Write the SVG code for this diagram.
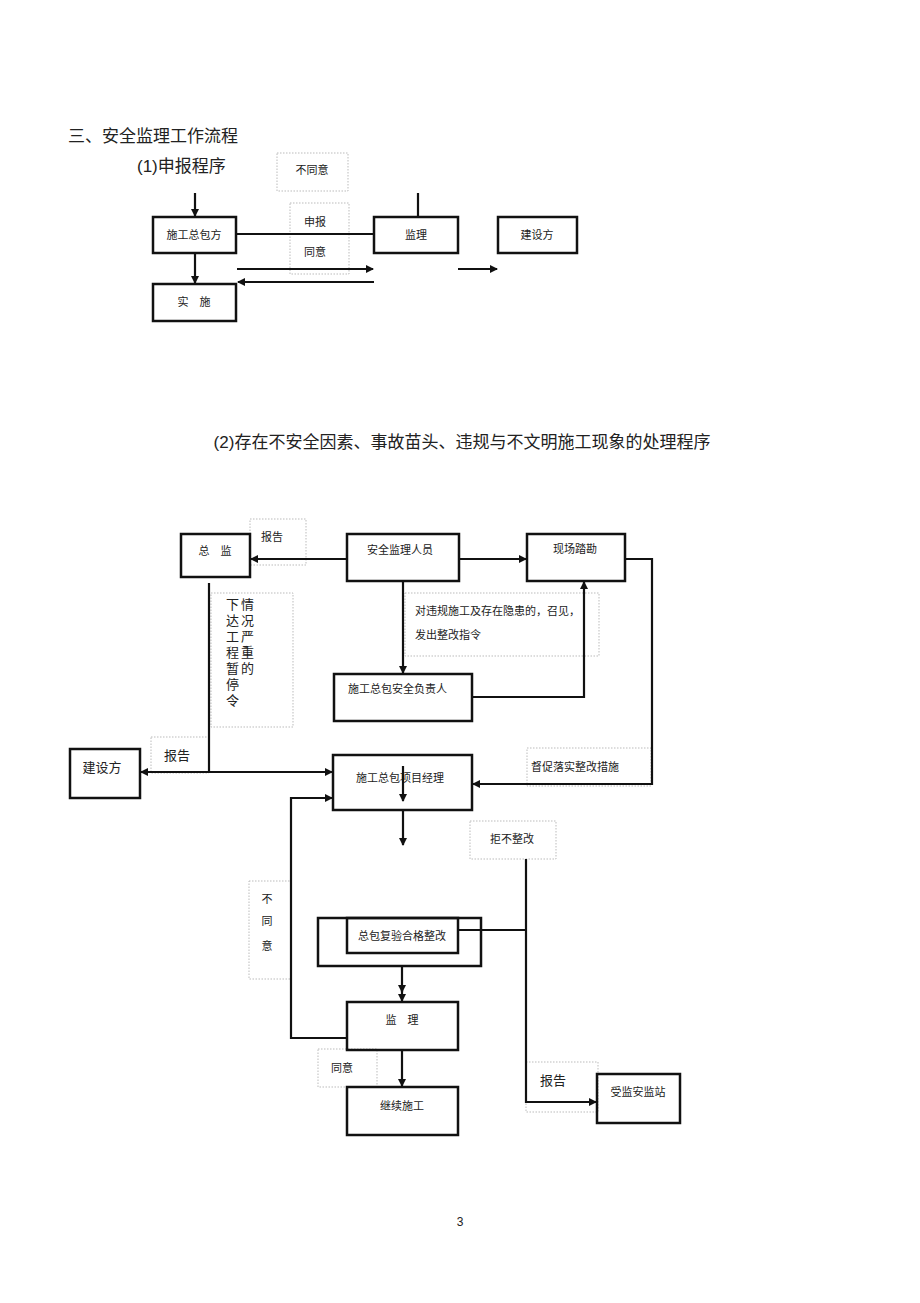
<svg xmlns="http://www.w3.org/2000/svg" width="920" height="1303" viewBox="0 0 920 1303">
<style>
text{font-family:"Liberation Serif","Noto Sans CJK SC",serif;fill:#222;}
.b{fill:none;stroke:#111;stroke-width:2.5}
.d{fill:none;stroke:#bbb;stroke-width:1;stroke-dasharray:1.5 1.5}
.l{fill:none;stroke:#111;stroke-width:2.2}
.s{font-size:11px}
.m{font-size:13px}
</style>
<defs><marker id="a" markerWidth="8" markerHeight="8" refX="7" refY="4" orient="auto" markerUnits="userSpaceOnUse"><path d="M0,0L8,4L0,8z" fill="#111"/></marker></defs>
<rect width="920" height="1303" fill="#fff"/>
<text x="68" y="142" font-size="17">三、安全监理工作流程</text>
<text x="137" y="172" font-size="17" style="font-family:'Liberation Sans','Noto Sans CJK SC',sans-serif">(1)申报程序</text>
<text x="462" y="448" font-size="17" text-anchor="middle" style="font-family:'Liberation Sans','Noto Sans CJK SC',sans-serif">(2)存在不安全因素、事故苗头、违规与不文明施工现象的处理程序</text>
<g id="labels1">
<rect class="d" x="277" y="153" width="71" height="38"/><text class="s" x="312" y="174" text-anchor="middle">不同意</text>
<rect class="d" x="290" y="203" width="59" height="71"/><text class="s" x="315" y="226" text-anchor="middle">申报</text><text class="s" x="315" y="256" text-anchor="middle">同意</text>
</g>
<g id="n1"><rect class="b" x="153" y="217" width="83" height="36"/><text class="s" x="194" y="239" text-anchor="middle">施工总包方</text></g>
<g id="n2"><rect class="b" x="374" y="217" width="84" height="36"/><text class="s" x="416" y="239" text-anchor="middle">监理</text></g>
<g id="n3"><rect class="b" x="498" y="217" width="79" height="36"/><text class="s" x="537" y="239" text-anchor="middle">建设方</text></g>
<g id="n4"><rect class="b" x="153" y="284" width="83" height="37"/><text class="s" x="194" y="306" text-anchor="middle">实　施</text></g>
<g id="labels2">
<rect class="d" x="250" y="519" width="56" height="46"/><text class="s" x="272" y="541" text-anchor="middle">报告</text>
<rect class="d" x="405" y="593" width="194" height="63"/><text class="s" x="415" y="615">对违规施工及存在隐患的，召见，</text><text class="s" x="415" y="639">发出整改指令</text>
<rect class="d" x="211" y="593" width="82" height="134"/>
<g class="m"><text x="226" y="609">下</text><text x="241" y="609">情</text><text x="226" y="625">达</text><text x="241" y="625">况</text><text x="226" y="641">工</text><text x="241" y="641">严</text><text x="226" y="657">程</text><text x="241" y="657">重</text><text x="226" y="673">暂</text><text x="241" y="673">的</text><text x="226" y="689">停</text><text x="226" y="705">令</text></g>
<rect class="d" x="151" y="737" width="58" height="36"/><text class="m" x="177" y="760" text-anchor="middle">报告</text>
<rect class="d" x="527" y="748" width="124" height="38"/><text class="s" x="575" y="771" text-anchor="middle">督促落实整改措施</text>
<rect class="d" x="470" y="821" width="86" height="38"/><text class="s" x="512" y="843" text-anchor="middle">拒不整改</text>
<rect class="d" x="249" y="881" width="42" height="98"/><text class="s" x="267" y="903" text-anchor="middle">不</text><text class="s" x="267" y="925" text-anchor="middle">同</text><text class="s" x="267" y="950" text-anchor="middle">意</text>
<rect class="d" x="318" y="1049" width="59" height="38"/><text class="s" x="342" y="1072" text-anchor="middle">同意</text>
<rect class="d" x="526" y="1062" width="72" height="50"/><text class="m" x="553" y="1085" text-anchor="middle">报告</text>
</g>
<g id="zongjian"><rect class="b" x="181" y="534" width="69" height="43"/><text class="s" x="215" y="555" text-anchor="middle">总　监</text></g>
<g id="anquan"><rect class="b" x="347" y="534" width="112" height="47"/><text class="s" x="400" y="554" text-anchor="middle">安全监理人员</text></g>
<g id="xianchang"><rect class="b" x="527" y="534" width="98" height="47"/><text class="s" x="575" y="553" text-anchor="middle">现场踏勘</text></g>
<g id="fuzeren"><rect class="b" x="334" y="674" width="138" height="47"/><text class="s" x="348" y="693">施工总包安全负责人</text></g>
<g id="jianshe"><rect class="b" x="70" y="749" width="70" height="49"/><text class="m" x="102" y="772" text-anchor="middle">建设方</text></g>
<g id="jingli"><rect class="b" x="333" y="755" width="139" height="55"/><text class="s" x="400" y="782" text-anchor="middle">施工总包项目经理</text></g>
<g id="fuyan"><rect class="b" x="318" y="918" width="163" height="48"/><rect class="b" x="347" y="918" width="111" height="35"/><text class="s" x="402" y="940" text-anchor="middle">总包复验合格整改</text></g>
<g id="jianli"><rect class="b" x="347" y="1002" width="111" height="48"/><text class="s" x="402" y="1024" text-anchor="middle">监　理</text></g>
<g id="jixu"><rect class="b" x="347" y="1087" width="111" height="48"/><text class="s" x="402" y="1110" text-anchor="middle">继续施工</text></g>
<g id="shoujian"><rect class="b" x="597" y="1074" width="83" height="49"/><text class="s" x="638" y="1096" text-anchor="middle">受监安监站</text></g>
<g id="connectors">
<path class="l" d="M195,193V216" marker-end="url(#a)"/>
<path class="l" d="M236,234H374M418,193V217"/>
<path class="l" d="M195,253V283" marker-end="url(#a)"/>
<path class="l" d="M237,269H373" marker-end="url(#a)"/>
<path class="l" d="M374,282H238" marker-end="url(#a)"/>
<path class="l" d="M458,269H497" marker-end="url(#a)"/>
<path class="l" d="M347,559H251" marker-end="url(#a)"/>
<path class="l" d="M459,559H526" marker-end="url(#a)"/>
<path class="l" d="M625,559H652V784H473" marker-end="url(#a)"/>
<path class="l" d="M403,581V673" marker-end="url(#a)"/>
<path class="l" d="M472,697H584V582" marker-end="url(#a)"/>
<path class="l" d="M209,583V772"/>
<path class="l" d="M209,772H141" marker-end="url(#a)"/>
<path class="l" d="M209,772H332" marker-end="url(#a)"/>
<path class="l" d="M403,766V801" marker-end="url(#a)"/>
<path class="l" d="M403,810V845" marker-end="url(#a)"/>
<path class="l" d="M526,859V1102H596" marker-end="url(#a)"/>
<path class="l" d="M458,930H526"/>
<path class="l" d="M402,966V992" marker-end="url(#a)"/>
<path class="l" d="M402,990V1001" marker-end="url(#a)"/>
<path class="l" d="M347,1038H291V798H332" marker-end="url(#a)"/>
<path class="l" d="M402,1050V1086" marker-end="url(#a)"/>
</g>
<text x="460" y="1226" font-size="12" text-anchor="middle" style="font-family:'Liberation Sans',sans-serif">3</text>
</svg>
